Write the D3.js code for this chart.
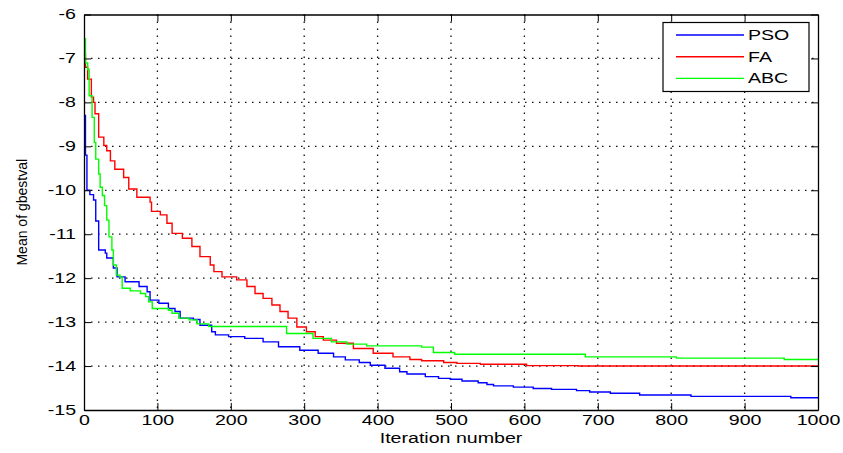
<!DOCTYPE html>
<html>
<head>
<meta charset="utf-8">
<script src="https://cdn.jsdelivr.net/npm/d3@7"></script>
<style>
  body { margin: 0; background: #fff; }
  svg { display: block; }
  .axis text { font-family: "Liberation Sans", Arial, sans-serif; font-size: 14px; fill: #000; }
  .axis path, .axis line { stroke: #000; }
</style>
</head>
<body>
<svg id="chart" width="843" height="453"></svg>
<script>
// values: [iteration, mean of gbestval], drawn as steps
const psoData = [[1,-8.3],[2,-9.2],[4,-10.0],[8,-10.1],[13,-10.22],[16,-10.7],[20,-11.36],[29,-11.43],
  [31,-11.54],[40,-11.77],[45,-11.97],[56,-12.08],[75,-12.19],[86,-12.31],[90,-12.5],[102,-12.57],
  [115,-12.69],[124,-12.76],[131,-12.91],[149,-12.94],[158,-13.07],[174,-13.22],[179,-13.29],
  [197,-13.33],[219,-13.37],[244,-13.45],[265,-13.56],[294,-13.64],[319,-13.71],[340,-13.79],
  [356,-13.86],[375,-13.92],[390,-13.98],[410,-14.05],[430,-14.13],[440,-14.18],[465,-14.24],
  [483,-14.28],[499,-14.3],[515,-14.34],[537,-14.38],[549,-14.42],[558,-14.45],[585,-14.48],
  [612,-14.51],[637,-14.53],[671,-14.56],[689,-14.59],[717,-14.62],[757,-14.66],[827,-14.69],
  [963,-14.72],[1000,-14.72]];

const faData = [[1,-6.9],[2,-7.2],[5,-7.47],[10,-7.88],[13,-8.0],[15,-8.26],[20,-8.79],[27,-8.98],
  [31,-9.1],[36,-9.33],[42,-9.52],[54,-9.71],[61,-9.97],[72,-10.16],[90,-10.27],[92,-10.48],
  [104,-10.56],[113,-10.75],[120,-10.98],[134,-11.09],[147,-11.28],[158,-11.51],[172,-11.7],
  [177,-11.85],[188,-11.97],[208,-12.04],[222,-12.19],[233,-12.35],[244,-12.46],[256,-12.61],
  [267,-12.76],[278,-12.91],[290,-13.11],[303,-13.22],[315,-13.33],[326,-13.41],[344,-13.48],
  [367,-13.6],[394,-13.71],[421,-13.79],[444,-13.85],[460,-13.88],[490,-13.92],[508,-13.94],
  [540,-13.96],[603,-13.99],[673,-14.0],[1000,-14.0]];

const abcData = [[1,-6.55],[2,-7.1],[5,-7.25],[7,-7.85],[11,-8.34],[14,-8.91],[16,-9.29],[20,-9.63],
  [22,-9.93],[25,-10.12],[28,-10.35],[31,-10.68],[34,-11.06],[38,-11.36],[40,-11.7],[44,-11.93],
  [49,-11.97],[52,-12.23],[63,-12.29],[77,-12.35],[84,-12.42],[88,-12.54],[93,-12.69],[115,-12.73],
  [120,-12.8],[129,-12.91],[143,-12.95],[154,-13.04],[170,-13.1],[276,-13.26],[312,-13.37],
  [337,-13.45],[358,-13.5],[385,-13.54],[460,-13.57],[476,-13.69],[505,-13.73],[683,-13.79],
  [807,-13.82],[954,-13.85],[1000,-13.85]];

const seriesNames = ['PSO', 'FA', 'ABC'];
const seriesColors = ['#0000ff', '#ff0000', '#00ff00'];
const xTicks = d3.range(0, 1001, 100);
const yTicks = d3.range(-15, -5, 1);

const STRETCH = 1.4;  // the reference text is drawn wide
const plain = d => String(d);  // hyphen minus, no thousands comma

const margin = {top: 14.5, right: 25, bottom: 43, left: 84},
      width = 843 - margin.left - margin.right,
      height = 453 - margin.top - margin.bottom;

const svg = d3.select('#chart')
  .append('g')
    .attr('transform', `translate(${margin.left},${margin.top})`);

const x = d3.scaleLinear().domain([0, 1000]).range([0, width]);
const y = d3.scaleLinear().domain([-15, -6]).range([height, 0]);

// dotted grid
const grid = svg.append('g')
    .attr('stroke', '#111')
    .attr('stroke-width', 1.3)
    .attr('stroke-dasharray', '1.5,5.5');
grid.selectAll('.gx')
  .data(xTicks.slice(1, -1))
  .enter().append('line')
    .attr('x1', d => x(d)).attr('x2', d => x(d))
    .attr('y1', 0).attr('y2', height);
grid.selectAll('.gy')
  .data(yTicks.slice(1, -1))
  .enter().append('line')
    .attr('y1', d => y(d)).attr('y2', d => y(d))
    .attr('x1', 0).attr('x2', width);

// curves
const line = d3.line()
    .x(d => x(d[0]))
    .y(d => y(d[1]))
    .curve(d3.curveStepAfter);

[psoData, faData, abcData].forEach((data, i) => {
  svg.append('path')
    .datum(data)
    .attr('fill', 'none')
    .attr('stroke', seriesColors[i])
    .attr('stroke-width', 1.4)
    .attr('d', line);
});

// axes, ticks pointing inward on all four sides
const axB = svg.append('g')
    .attr('class', 'axis')
    .attr('transform', `translate(0,${height})`)
    .call(d3.axisBottom(x).tickValues(xTicks).tickFormat(plain)
      .tickSizeInner(-7).tickSizeOuter(0).tickPadding(5));
axB.selectAll('text').attr('transform', `scale(${STRETCH},1)`);

const axL = svg.append('g')
    .attr('class', 'axis')
    .call(d3.axisLeft(y).tickValues(yTicks).tickFormat(plain)
      .tickSizeInner(-7).tickSizeOuter(0).tickPadding(8));
axL.selectAll('text')
    .attr('x', -8 / STRETCH)
    .attr('transform', `scale(${STRETCH},1)`);

svg.append('g')
    .attr('class', 'axis')
    .call(d3.axisTop(x).tickValues(xTicks).tickSizeInner(-7).tickSizeOuter(0).tickFormat(''));
svg.append('g')
    .attr('class', 'axis')
    .attr('transform', `translate(${width},0)`)
    .call(d3.axisRight(y).tickValues(yTicks).tickSizeInner(-7).tickSizeOuter(0).tickFormat(''));

svg.selectAll('.axis .domain').attr('stroke-width', 1.3);

// axis titles
svg.append('text')
    .attr('transform', `translate(${width / 2},${height + 33}) scale(${STRETCH},1)`)
    .attr('text-anchor', 'middle')
    .style('font-family', '"Liberation Sans", Arial, sans-serif')
    .style('font-size', '14px')
    .text('Iteration number');

svg.append('text')
    .attr('transform', `translate(${27 - margin.left},${height / 2}) rotate(-90)`)
    .attr('text-anchor', 'middle')
    .style('font-family', '"Liberation Sans", Arial, sans-serif')
    .style('font-size', '14px')
    .text('Mean of gbestval');

// legend
const legend = svg.append('g')
    .attr('transform', `translate(${663 - margin.left},${22.5 - margin.top})`);
legend.append('rect')
    .attr('width', 146)
    .attr('height', 69)
    .attr('fill', '#fff')
    .attr('stroke', '#000')
    .attr('stroke-width', 1.2);
const item = legend.selectAll('.item')
  .data(seriesNames)
  .enter().append('g')
    .attr('transform', (d, i) => `translate(0,${12.5 + i * 21.7})`);
item.append('line')
    .attr('x1', 13).attr('x2', 81)
    .attr('stroke', (d, i) => seriesColors[i])
    .attr('stroke-width', 1.4);
item.append('text')
    .attr('transform', `translate(85,0) scale(${STRETCH},1)`)
    .attr('dy', '0.36em')
    .style('font-family', '"Liberation Sans", Arial, sans-serif')
    .style('font-size', '14px')
    .text(d => d);
</script>
</body>
</html>
